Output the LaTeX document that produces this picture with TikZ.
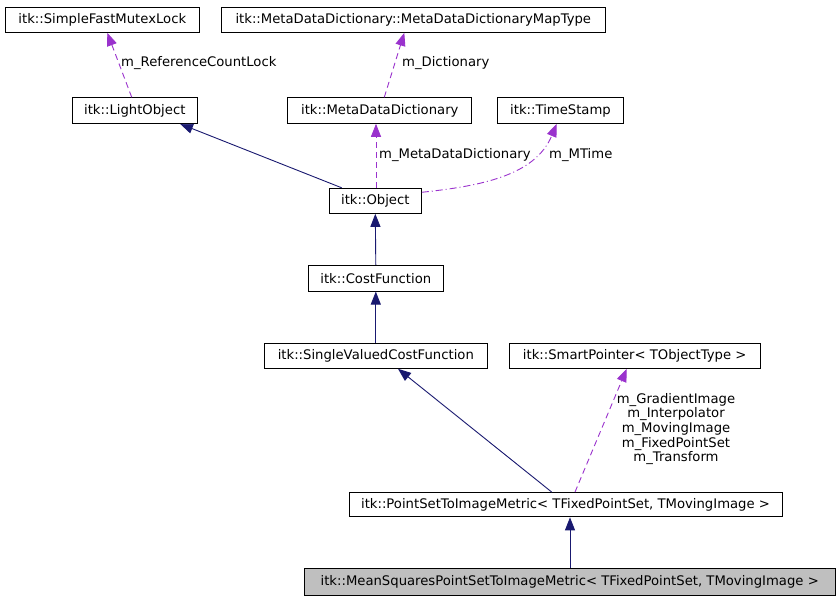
\documentclass[tikz,border=0pt]{standalone}
\usepackage{fontspec}
\setmainfont{DejaVu Sans}
\usetikzlibrary{arrows.meta}
\definecolor{inh}{HTML}{191970}
\definecolor{usr}{HTML}{9A32CD}
\definecolor{grayfill}{HTML}{BFBFBF}
\tikzset{
  cls/.style={draw=black, line width=1pt, inner sep=0pt, font=\fontsize{13.2}{14.6}\selectfont, text=black},
  inhedge/.style={draw=inh, line width=0.9pt, -{Triangle[length=13pt,width=10pt]}, color=inh},
  usedge/.style={draw=usr, line width=0.9pt, dash pattern=on 6pt off 4pt, -{Triangle[length=13pt,width=10pt]}, color=usr},
  usdot/.style={draw=usr, line width=0.9pt, dash pattern=on 7pt off 3pt on 1pt off 3pt, -{Triangle[length=13pt,width=10pt]}, color=usr},
  lbl/.style={font=\fontsize{13.2}{14.6}\selectfont, inner sep=0pt, text=black}
}
\begin{document}
\begin{tikzpicture}[x=1pt,y=-1pt]
\useasboundingbox[fill=white] (0,0) rectangle (840,600);
% nodes
\node[cls, minimum width=194.3pt, minimum height=25pt] (sfml) at (102.3,19.8) {itk::SimpleFastMutexLock};
\node[cls, minimum width=384pt, minimum height=25pt] (mapt) at (413.3,19.8) {itk::MetaDataDictionary::MetaDataDictionaryMapType};
\node[cls, minimum width=125pt, minimum height=25.6pt] (light) at (134.8,110.5) {itk::LightObject};
\node[cls, minimum width=183.7pt, minimum height=25.6pt] (mdd) at (379.8,110.5) {itk::MetaDataDictionary};
\node[cls, minimum width=126.4pt, minimum height=25.6pt] (ts) at (560.5,110.5) {itk::TimeStamp};
\node[cls, minimum width=92pt, minimum height=25pt] (obj) at (375.3,200.8) {itk::Object};
\node[cls, minimum width=135pt, minimum height=25.7pt] (cost) at (375.8,278.2) {itk::CostFunction};
\node[cls, minimum width=223pt, minimum height=25pt] (svcf) at (375.8,355.8) {itk::SingleValuedCostFunction};
\node[cls, minimum width=250.7pt, minimum height=25pt] (sp) at (634.7,355.8) {itk::SmartPointer< TObjectType >};
\node[cls, minimum width=433pt, minimum height=24.3pt] (psm) at (565.5,504.7) {itk::PointSetToImageMetric< TFixedPointSet, TMovingImage >};
\node[cls, fill=grayfill, minimum width=530.7pt, minimum height=26.7pt] (ms) at (569.7,581.7) {itk::MeanSquaresPointSetToImageMetric< TFixedPointSet, TMovingImage >};
% edges
\draw[usedge] ([xshift=-3.1pt]light.north) -- ([xshift=5pt]sfml.south);
\node[lbl, anchor=west] (l1) at (121,63.3) {m\_ReferenceCountLock};
\draw[usedge] ([xshift=4.5pt]mdd.north) -- ([xshift=-9pt]mapt.south);
\node[lbl, anchor=west] (l2) at (402,63.3) {m\_Dictionary};
\draw[inhedge] ([xshift=-33.6pt]obj.north) -- ([xshift=45.2pt]light.south);
\draw[usedge] ([xshift=0.7pt]obj.north) -- ([xshift=-3.8pt]mdd.south);
\node[lbl, anchor=west] (l3) at (379,155) {m\_MetaDataDictionary};
\draw[usdot] ([yshift=8.5pt]obj.east) .. controls (480,186) and (535,176) .. ([xshift=-3.8pt]ts.south);
\node[lbl, anchor=west] (l4) at (549,155) {m\_MTime};
\draw[inhedge] (cost.north) -- (obj.south);
\draw[inhedge] (svcf.north) -- (cost.south);
\draw[inhedge] ([xshift=-13.8pt]psm.north) -- ([xshift=22.2pt]svcf.south);
\draw[usedge] ([xshift=9.5pt]psm.north) -- ([xshift=-8pt]sp.south);
\node[lbl, align=center] (l5) at (676,429) {m\_GradientImage\\m\_Interpolator\\m\_MovingImage\\m\_FixedPointSet\\m\_Transform};
\draw[inhedge] ([xshift=0.3pt]ms.north) -- ([xshift=4.5pt]psm.south);
\end{tikzpicture}
\end{document}
